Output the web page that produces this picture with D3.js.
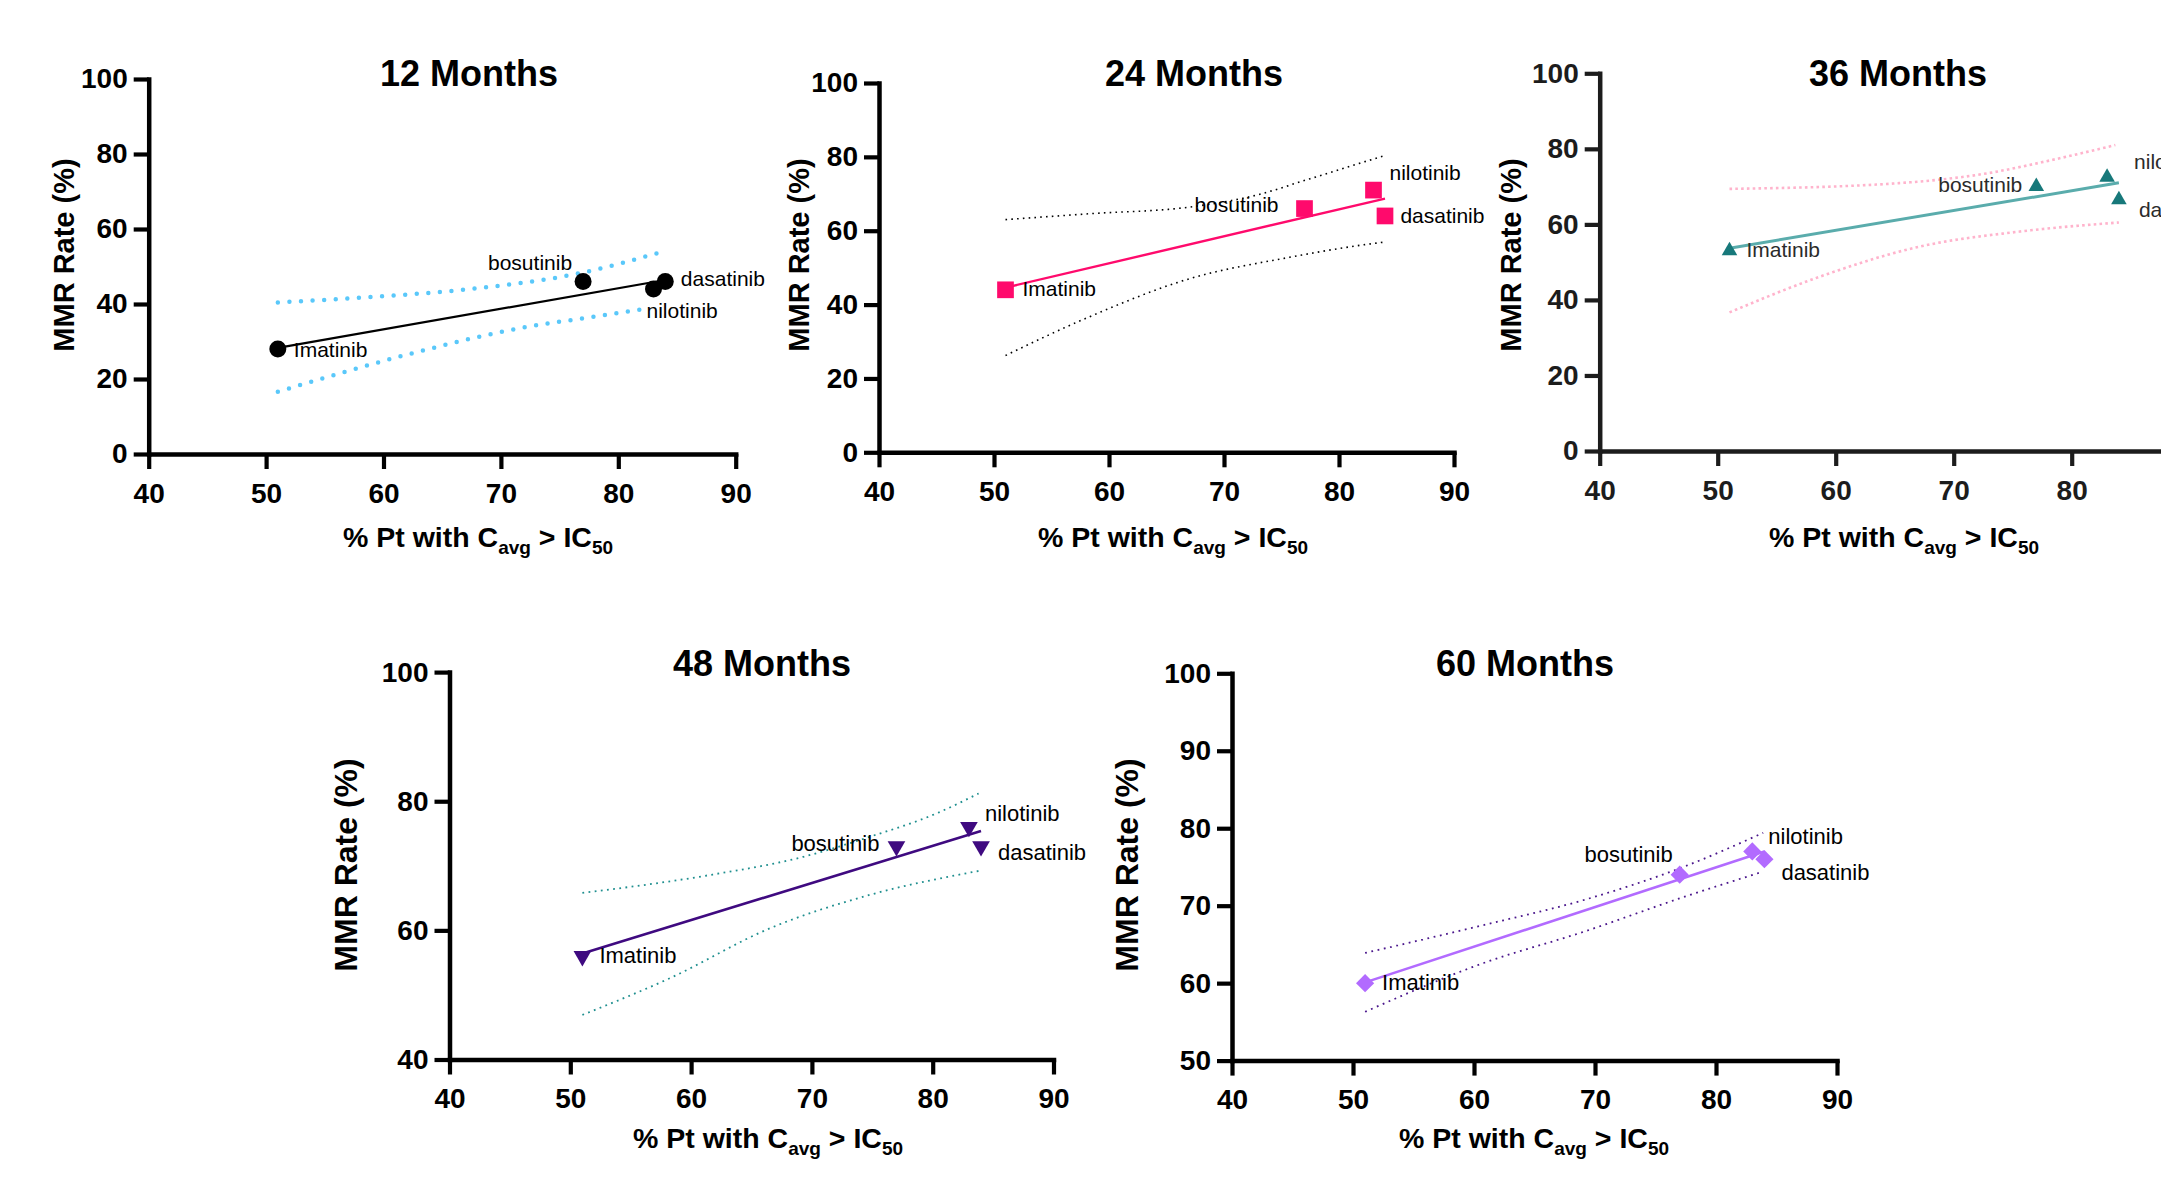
<!DOCTYPE html>
<html>
<head>
<meta charset="utf-8">
<script src="https://cdn.jsdelivr.net/npm/d3@7"></script>
<style>
  body { margin: 0; background: #fff; }
  svg { display: block; font-family: "Liberation Sans", Arial, sans-serif; }
</style>
</head>
<body>
<svg id="chart" width="2161" height="1180"></svg>
<script>
// drugs and % of patients with Cavg > IC50 (same x for every panel)
var drugs = ["Imatinib", "bosutinib", "nilotinib", "dasatinib"];
var pctAbove = [51, 77, 83, 84];

// MMR rate (%) per time point
var mmr12 = [28, 46, 44, 46];
var mmr24 = [44, 66, 71, 64];
var mmr36 = [53, 70, 72.5, 66.5];
var mmr48 = [56, 73, 76, 73];
var mmr60 = [60, 74, 77, 76];

// fitted line ends
var fitX = [51, 84];
var fit12 = [28.3, 46.4];
var fit24 = [44.6, 68.7];
var fit36 = [53.7, 71.0];
var fit48 = [56.4, 75.4];
var fit60 = [60.1, 77.0];

// confidence bands
var up12X = [51, 58, 67.1, 76.7, 83.5], up12Y = [40.4, 41.7, 43.9, 48.2, 53.7];
var lo12X = [51, 62.5, 72.2, 77.9, 82], lo12Y = [16.6, 26.9, 33.9, 36.6, 38.6];
var up24X = [51, 58.3, 67, 72.9, 77.2, 83.9], up24Y = [63.0, 64.6, 66.4, 69.7, 73.8, 80.3];
var lo24X = [51, 58.3, 67, 75.7, 81.5, 83.9], lo24Y = [26.2, 36.7, 47.0, 52.8, 55.9, 56.9];
var up36X = [51, 64.3, 72.8, 78.4, 83.7], up36Y = [69.4, 70.7, 73.5, 77.1, 81.0];
var lo36X = [51, 58.7, 67.1, 75.6, 84], lo36Y = [36.7, 46.2, 54.1, 58.1, 60.5];
var up48X = [51, 61, 69.3, 74.8, 80.3, 83.8], up48Y = [65.8, 68.4, 71.4, 74.5, 78.1, 81.2];
var lo48X = [51, 58.25, 66.5, 74.8, 83.8], lo48Y = [46.9, 52.6, 60.3, 65.5, 69.2];
var up60X = [51, 60.8, 69, 77.3, 83.9], up60Y = [63.9, 67.5, 70.7, 75.0, 79.4];
var lo60X = [51, 60.8, 69, 77.3, 83.9], lo60Y = [56.3, 62.6, 66.6, 71.1, 74.4];

// tick labels
var xTicks = [40, 50, 60, 70, 80, 90];
var yTicksTop = [0, 20, 40, 60, 80, 100];
var yTicks48 = [40, 60, 80, 100];
var yTicks60 = [50, 60, 70, 80, 90, 100];

var titles = ["12 Months", "24 Months", "36 Months", "48 Months", "60 Months"];

var svg = d3.select("#chart");

function zip(a, b) {
  return a.map(function (v, i) { return [v, b[i]] })
}

// one panel per time point; layout only, the values come from the arrays above
var panels = [
  { title: titles[0], vals: mmr12, fit: fit12, up: zip(up12X, up12Y), lo: zip(lo12X, lo12Y),
    left: 148.7, right: 735.7, top: 79, bottom: 454, yDomain: [0, 100], yTicks: yTicksTop,
    titleXY: [469, 86], xLab: [343, 547], yLab: [74, 255], yLabSize: 29, labSize: 21,
    symbol: d3.symbolCircle, size: 227, rotate: 0, color: "#000", fitColor: "#000", fitW: 2.2,
    ciColor: "#5ac8fa", ciW: 4.5, ciDash: "0 11.6", ciCap: "round",
    labOff: [[16, 7.5, "start"], [-11, -12, "end"], [-7, 29, "start"], [15.6, 4, "start"]], textColor: "#000" },
  { title: titles[1], vals: mmr24, fit: fit24, up: zip(up24X, up24Y), lo: zip(lo24X, lo24Y),
    left: 879, right: 1454, top: 83, bottom: 452.3, yDomain: [0, 100], yTicks: yTicksTop,
    titleXY: [1194, 86], xLab: [1038, 547], yLab: [809, 255], yLabSize: 29, labSize: 21,
    symbol: d3.symbolSquare, size: 279, rotate: 0, color: "#ff0a6c", fitColor: "#ff0a6c", fitW: 2.4,
    ciColor: "#000", ciW: 1.6, ciDash: "1.6 4.2", ciCap: "butt",
    labOff: [[17, 6, "start"], [-26, 3, "end"], [16, -10, "start"], [15.4, 6.7, "start"]], textColor: "#000" },
  { title: titles[2], vals: mmr36, fit: fit36, up: zip(up36X, up36Y), lo: zip(lo36X, lo36Y),
    left: 1599.7, right: 2189.7, top: 73.3, bottom: 451, yDomain: [0, 100], yTicks: yTicksTop,
    titleXY: [1898, 86], xLab: [1769, 547], yLab: [1521, 255], yLabSize: 29, labSize: 21,
    symbol: d3.symbolTriangle, size: 105, rotate: 0, color: "#17787a", fitColor: "#5aacac", fitW: 3,
    ciColor: "#ffb3cc", ciW: 2.6, ciDash: "2.6 3.2", ciCap: "butt",
    labOff: [[17, 6, "start"], [-14, 5, "end"], [27, -8, "start"], [20, 17, "start"]], textColor: "#2b2b2b" },
  { title: titles[3], vals: mmr48, fit: fit48, up: zip(up48X, up48Y), lo: zip(lo48X, lo48Y),
    left: 449.5, right: 1053.5, top: 672.1, bottom: 1059.5, yDomain: [40, 100], yTicks: yTicks48,
    titleXY: [762, 676], xLab: [633, 1148], yLab: [357, 865], yLabSize: 32, labSize: 22,
    symbol: d3.symbolTriangle, size: 135, rotate: 180, color: "#3f0a80", fitColor: "#3f0a80", fitW: 2.6,
    ciColor: "#1f8f8f", ciW: 1.8, ciDash: "1.8 4.4", ciCap: "butt",
    labOff: [[17, 7, "start"], [-17, 5, "end"], [16, -6, "start"], [17, 14, "start"]], textColor: "#000" },
  { title: titles[4], vals: mmr60, fit: fit60, up: zip(up60X, up60Y), lo: zip(lo60X, lo60Y),
    left: 1232, right: 1837, top: 673.3, bottom: 1060.6, yDomain: [50, 100], yTicks: yTicks60,
    titleXY: [1525, 676], xLab: [1399, 1148], yLab: [1138, 865], yLabSize: 32, labSize: 22,
    symbol: d3.symbolSquare, size: 165, rotate: 45, color: "#b26bff", fitColor: "#b26bff", fitW: 2.6,
    ciColor: "#4a168c", ciW: 1.8, ciDash: "1.8 4.6", ciCap: "butt",
    labOff: [[17, 7, "start"], [-7, -13, "end"], [16, -7, "start"], [17, 21, "start"]], textColor: "#000" }
];

function styleAxis(g, color) {
  g.select(".domain").attr("stroke", color).attr("stroke-width", 4.5).attr("stroke-linecap", "square")
  g.selectAll(".tick line").attr("stroke", color).attr("stroke-width", 4.2)
  g.selectAll(".tick text")
    .attr("fill", color)
    .style("font-size", "28px")
    .style("font-weight", "bold")
}

function drawPanel(p) {
  var x = d3.scaleLinear().domain([40, 90]).range([p.left, p.right]);
  var y = d3.scaleLinear().domain(p.yDomain).range([p.bottom, p.top]);
  var g = svg.append("g");
  var axisColor = p.textColor == "#000" ? "#000" : "#1c1c1c";

  // confidence bands (dotted)
  var line = d3.line()
    .x(function (d) { return x(d[0]) })
    .y(function (d) { return y(d[1]) })
    .curve(d3.curveMonotoneX);
  [p.up, p.lo].forEach(function (band) {
    g.append("path")
      .attr("d", line(band))
      .attr("fill", "none")
      .attr("stroke", p.ciColor)
      .attr("stroke-width", p.ciW)
      .attr("stroke-dasharray", p.ciDash)
      .attr("stroke-linecap", p.ciCap)
  })

  // fitted line
  g.append("path")
    .attr("d", d3.line().x(function (d) { return x(d[0]) }).y(function (d) { return y(d[1]) })(zip(fitX, p.fit)))
    .attr("fill", "none")
    .attr("stroke", p.fitColor)
    .attr("stroke-width", p.fitW)

  // points
  var sym = d3.symbol().type(p.symbol).size(p.size);
  g.selectAll(".pt")
    .data(zip(pctAbove, p.vals))
    .enter()
    .append("path")
    .attr("d", sym)
    .attr("transform", function (d) { return "translate(" + x(d[0]) + "," + y(d[1]) + ") rotate(" + p.rotate + ")" })
    .attr("fill", p.color)

  // point labels
  g.selectAll(".lab")
    .data(drugs)
    .enter()
    .append("text")
    .attr("x", function (d, i) { return x(pctAbove[i]) + p.labOff[i][0] })
    .attr("y", function (d, i) { return y(p.vals[i]) + p.labOff[i][1] })
    .attr("text-anchor", function (d, i) { return p.labOff[i][2] })
    .style("font-size", p.labSize + "px")
    .attr("fill", p.textColor)
    .text(function (d) { return d })

  // axes
  var gx = g.append("g")
    .attr("transform", "translate(0," + p.bottom + ")")
    .call(d3.axisBottom(x).tickValues(xTicks).tickSize(15).tickSizeOuter(0).tickPadding(14));
  styleAxis(gx, axisColor)
  var gy = g.append("g")
    .attr("transform", "translate(" + p.left + ",0)")
    .call(d3.axisLeft(y).tickValues(p.yTicks).tickSize(15).tickSizeOuter(0).tickPadding(6));
  styleAxis(gy, axisColor)

  // title
  g.append("text")
    .attr("x", p.titleXY[0])
    .attr("y", p.titleXY[1])
    .attr("text-anchor", "middle")
    .style("font-size", "36px")
    .style("font-weight", "bold")
    .text(p.title)

  // y axis title
  g.append("text")
    .attr("transform", "translate(" + p.yLab[0] + "," + p.yLab[1] + ") rotate(-90)")
    .attr("text-anchor", "middle")
    .style("font-size", p.yLabSize + "px")
    .style("font-weight", "bold")
    .text("MMR Rate (%)")

  // x axis title with subscripts
  var xt = g.append("text")
    .attr("x", p.xLab[0])
    .attr("y", p.xLab[1])
    .style("font-size", "28.5px")
    .style("font-weight", "bold");
  xt.append("tspan").text("% Pt with C")
  xt.append("tspan").attr("dy", 7).style("font-size", "19px").text("avg")
  xt.append("tspan").attr("dy", -7).text(" > IC")
  xt.append("tspan").attr("dy", 7).style("font-size", "19px").text("50")
}

panels.forEach(drawPanel)
</script>
</body>
</html>
